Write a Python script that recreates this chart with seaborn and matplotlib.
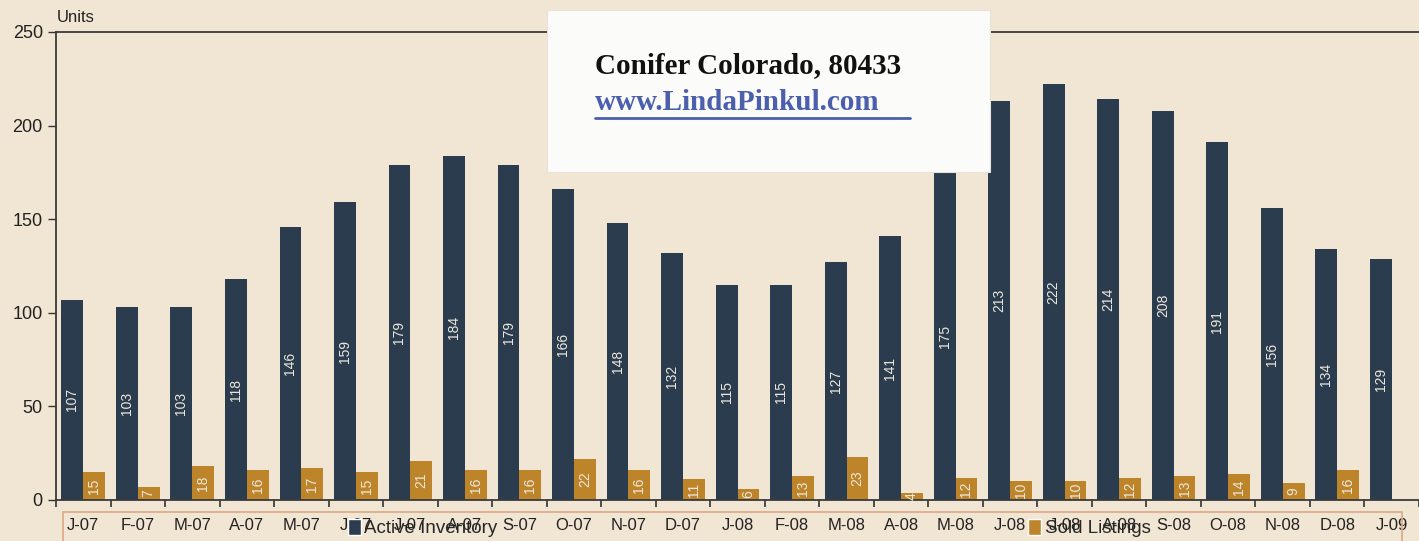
import numpy as np
import pandas as pd
import seaborn as sns
import matplotlib.pyplot as plt
from matplotlib.patches import Rectangle, Patch
from matplotlib.lines import Line2D

months = ["J-07", "F-07", "M-07", "A-07", "M-07", "J-07", "J-07", "A-07", "S-07", "O-07",
          "N-07", "D-07", "J-08", "F-08", "M-08", "A-08", "M-08", "J-08", "J-08", "A-08",
          "S-08", "O-08", "N-08", "D-08", "J-09"]
active_inventory = [107, 103, 103, 118, 146, 159, 179, 184, 179, 166, 148, 132, 115,
                    115, 127, 141, 175, 213, 222, 214, 208, 191, 156, 134, 129]
sold_listings = [15, 7, 18, 16, 17, 15, 21, 16, 16, 22, 16, 11, 6,
                 13, 23, 4, 12, 10, 10, 12, 13, 14, 9, 16, np.nan]
series_names = ["Active Inventory", "Sold Listings"]

bg = "#f1e5d3"
dark = "#2b3c4e"
gold = "#be8429"

# long format for seaborn (unique position per month)
pos = list(range(len(months)))
df = pd.DataFrame({
    "pos": pos * 2,
    "value": active_inventory + sold_listings,
    "series": [series_names[0]] * len(pos) + [series_names[1]] * len(pos),
})

sns.set_theme(style="white")
plt.rcParams["font.family"] = ["Liberation Sans", "DejaVu Sans"]

fig = plt.figure(figsize=(14.19, 5.41), dpi=100, facecolor=bg)
ax = fig.add_axes([56 / 1419, 1 - 500 / 541, 1 - 56 / 1419, (500 - 32) / 541])
ax.set_facecolor(bg)

sns.barplot(data=df, x="pos", y="value", hue="series", order=pos,
            hue_order=series_names, palette=[dark, gold], width=0.8,
            saturation=1, legend=False, linewidth=0, edgecolor="none", ax=ax)

for cont in ax.containers:
    labels = ["" if np.isnan(v) else f"{int(v)}" for v in cont.datavalues]
    ax.bar_label(cont, labels=labels, label_type="center", rotation=90,
                 color="#ece8df", fontsize=10)

ax.set_ylim(0, 250)
ax.set_xlim(-0.5, 24.24)
ax.set_yticks(range(0, 251, 50))
ax.set_xticks(pos)
ax.set_xticklabels(months, fontsize=12)
ax.set_xticks(np.arange(-0.5, 24.6, 1), minor=True)
ax.tick_params(axis="x", which="major", length=0, pad=13, colors="#222222")
ax.tick_params(axis="x", which="minor", length=5, width=1.2, color="#333333",
               direction="out", bottom=True)
ax.tick_params(axis="y", length=6, width=1, color="#333333", left=True,
               labelsize=13, labelcolor="#222222")
ax.set_xlabel("")
ax.set_ylabel("")
for side in ["left", "bottom", "top"]:
    ax.spines[side].set_color("#3a3a3a")
    ax.spines[side].set_linewidth(1.3)
ax.spines["right"].set_visible(False)

fig.text(57 / 1419, 1 - 17 / 541, "Units", fontsize=12, color="#222222", va="center")

# legend box along the bottom
fig.patches.append(Rectangle((63 / 1419, -0.05), (1402 - 63) / 1419, 0.05 + (541 - 512) / 541,
                             transform=fig.transFigure, fill=False,
                             edgecolor="#dca888", linewidth=1.2, zorder=0))
handles = [Patch(facecolor=dark), Patch(facecolor=gold)]
fig.legend(handles, series_names, loc="center left",
           bbox_to_anchor=(340 / 1419, 1 - 528 / 541), ncol=2, frameon=False,
           fontsize=13.5, handlelength=0.7, handleheight=1.0, handletextpad=0.2,
           columnspacing=28.3, borderaxespad=0)

# pasted note
fig.patches.append(Rectangle((547 / 1419, 1 - 172 / 541), (990 - 547) / 1419, (172 - 10) / 541,
                             transform=fig.transFigure, facecolor="#fbfbf9",
                             edgecolor="#e8e2d8", linewidth=0.8, zorder=5))
fig.text(595 / 1419, 1 - 66 / 541, "Conifer Colorado, 80433",
         family=["Liberation Serif", "DejaVu Serif"], fontweight="bold",
         fontsize=21, color="#111111", va="center", zorder=6)
fig.text(595 / 1419, 1 - 103 / 541, "www.LindaPinkul.com",
         family=["Liberation Serif", "DejaVu Serif"], fontweight="bold",
         fontsize=21, color="#4b5fad", va="center", zorder=6)
fig.lines.append(Line2D([595 / 1419, 910 / 1419], [1 - 118 / 541, 1 - 118 / 541],
                        transform=fig.transFigure, color="#4b5fad", linewidth=2, zorder=6))

fig.savefig("out.png", dpi=100, facecolor=bg)
